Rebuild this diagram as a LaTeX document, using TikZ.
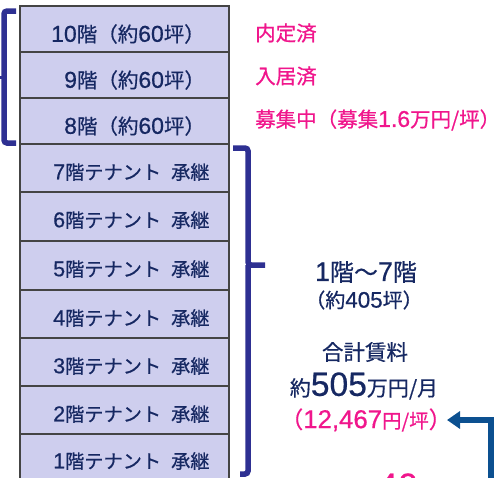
\documentclass[tikz,border=0pt]{standalone}
\usepackage{fontspec}
\setmainfont{Noto Sans CJK JP}[FakeBold=0.6]
\newfontfamily\arfont[Scale=1.12,FakeBold=0.6]{Liberation Sans}
\newcommand\lnum[1]{{\arfont #1}}
\usetikzlibrary{arrows.meta}
\definecolor{boxfill}{RGB}{206,206,238}
\definecolor{boxline}{RGB}{68,68,68}
\definecolor{navyc}{RGB}{22,40,98}
\definecolor{bracec}{RGB}{46,48,146}
\definecolor{pinkc}{RGB}{240,22,140}
\definecolor{arrowc}{RGB}{12,80,144}
\tikzset{
  floor/.style={draw=boxline, fill=boxfill, line width=2.3pt, minimum width=209pt, inner sep=0pt},
  ftext/.style={text=navyc, font=\fontsize{20.5}{24}\selectfont, inner sep=0pt, anchor=west},
  ttext/.style={ftext, font=\fontsize{19.2}{23}\selectfont},
  ptext/.style={text=pinkc, font=\fontsize{20.5}{24}\selectfont, inner sep=0pt, anchor=west},
  ctext/.style={text=navyc, inner sep=0pt},
  bracket/.style={draw=bracec, line width=5.5pt, rounded corners=3pt},
}
\begin{document}
\begin{tikzpicture}[x=1pt,y=-1pt]
\useasboundingbox (0,0) rectangle (500,477);
\clip (0,0) rectangle (500,477);
% floor boxes
\node[floor, minimum height=46pt] (f10) at (124.5,29) {};
\node[floor, minimum height=46pt] (f9) at (124.5,75) {};
\node[floor, minimum height=46pt] (f8) at (124.5,121) {};
\node[floor, minimum height=48pt] (f7) at (124.5,168) {};
\node[floor, minimum height=49pt] (f6) at (124.5,216.5) {};
\node[floor, minimum height=49pt] (f5) at (124.5,265.5) {};
\node[floor, minimum height=48pt] (f4) at (124.5,314) {};
\node[floor, minimum height=48pt] (f3) at (124.5,362) {};
\node[floor, minimum height=48pt] (f2) at (124.5,410) {};
\node[floor, minimum height=52pt] (f1) at (124.5,460) {};
% floor texts
\node[ftext] (t10) at (51,34) {\lnum{10}階（約\lnum{60}坪）};
\node[ftext] (t9) at (64,80) {\lnum{9}階（約\lnum{60}坪）};
\node[ftext] (t8) at (64,126) {\lnum{8}階（約\lnum{60}坪）};
\node[ttext] (t7) at (53,172) {\lnum{7}階テナント\hspace{10pt}承継};
\node[ttext] (t6) at (53,220) {\lnum{6}階テナント\hspace{10pt}承継};
\node[ttext] (t5) at (53,269) {\lnum{5}階テナント\hspace{10pt}承継};
\node[ttext] (t4) at (53,318) {\lnum{4}階テナント\hspace{10pt}承継};
\node[ttext] (t3) at (53,366) {\lnum{3}階テナント\hspace{10pt}承継};
\node[ttext] (t2) at (53,414) {\lnum{2}階テナント\hspace{10pt}承継};
\node[ttext] (t1) at (53,461) {\lnum{1}階テナント\hspace{10pt}承継};
% status texts
\node[ptext] (s10) at (255,33) {内定済};
\node[ptext] (s9) at (255,76) {入居済};
\node[ptext] (s8) at (255,120) {募集中（募集\lnum{1.6}万円/坪）};
% brackets
\draw[bracket] (16,11) -- (4,11) -- (4,143) -- (16,143);
\draw[draw=bracec, line width=3pt] (4,77) -- (0,77);
\draw[bracket] (233,148) -- (248,148) -- (248,265) -- (265,265);
\draw[bracket] (248,265) -- (248,474) -- (240,474);
% summary
\node[ctext, font=\fontsize{24}{28}\selectfont] (range) at (366,272) {\lnum{1}階～\lnum{7}階};
\node[ctext, font=\fontsize{20}{24}\selectfont] (area) at (364,300) {（約\lnum{405}坪）};
\node[ctext, font=\fontsize{21.5}{24}\selectfont] (total) at (365,352) {合計賃料};
\node[ctext, font=\fontsize{21}{24}\selectfont] (amount) at (364,386) {約{\fontsize{30}{32}\selectfont\lnum{505}}万円/月};
\node[ctext, text=pinkc, font=\fontsize{23}{26}\selectfont] (rent) at (366,420) {（\lnum{12,467}{\fontsize{19.5}{22}\selectfont 円/坪}）};
\node[ctext, text=pinkc, font=\fontsize{32}{36}\selectfont] (forty) at (398,486) {\lnum{40}};
% arrow
\coordinate (abot) at (491,480);
\coordinate (atip) at (447,420);
\draw[draw=arrowc, line width=6.5pt, -{Triangle[length=13pt,width=17pt]}] (abot) -- (491,420) -- (atip);
\end{tikzpicture}
\end{document}
